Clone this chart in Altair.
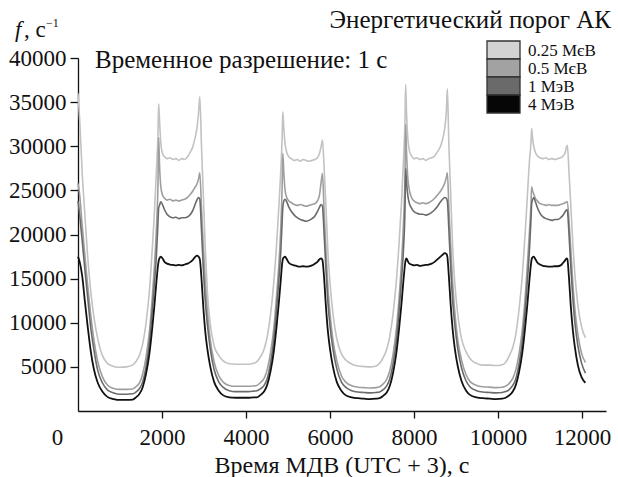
import altair as alt
import pandas as pd

# Time grid (s), shared by all four series
TIME = [
    0, 40, 100, 160, 230, 300, 380, 470, 580, 700, 850, 1000, 1150,
    1300, 1380, 1470, 1540, 1620, 1700, 1770, 1820, 1870, 1905, 1920,
    1940, 1970, 2010, 2060, 2120, 2190, 2260, 2330, 2400, 2470, 2540, 2610, 2680, 2730, 2780, 2830, 2870, 2900,
    2940, 2980, 3030, 3080, 3150, 3240, 3350, 3450, 3600, 3750,
    3900, 4050, 4180,
    4260, 4340, 4430, 4500, 4580, 4660, 4730, 4780, 4830, 4860, 4876,
    4900, 4930, 4970, 5020, 5080, 5150, 5220, 5290, 5360, 5430, 5500, 5570, 5640, 5700, 5750, 5790, 5820,
    5860, 5900, 5950, 6000, 6070, 6160, 6270, 6370, 6520, 6670,
    6800, 6950, 7100,
    7180, 7260, 7350, 7420, 7500, 7580, 7650, 7700, 7750, 7785, 7800,
    7820, 7850, 7890, 7940, 8000, 8070, 8140, 8210, 8280, 8350, 8420, 8490, 8560, 8630, 8680, 8730, 8770, 8793,
    8830, 8870, 8920, 8970, 9040, 9130, 9240, 9340, 9490, 9640,
    9800, 9950, 10100,
    10180, 10260, 10350, 10420, 10500, 10580, 10650, 10700, 10750, 10785, 10800,
    10820, 10850, 10890, 10940, 11000, 11070, 11140, 11210, 11280, 11350, 11420, 11490, 11550, 11600, 11630, 11650,
    11690, 11730, 11780, 11830, 11900, 11990, 12080,
]

F_025 = [
    36000, 33000, 27000, 22500, 17500, 13700, 10600, 8200, 6300, 5400, 5050, 4950, 5000,
    5200, 5600, 6400, 7600, 10000, 13600, 18500, 22500, 27500, 31500, 34800,
    33000, 30500, 29200, 28800, 28600, 28700, 28500, 28600, 28400, 28600, 28500, 28800, 29400, 29900, 30800, 32000, 33800, 35600,
    30000, 25000, 18500, 13500, 9800, 7400, 6300, 5700, 5350, 5300,
    5300, 5300, 5400,
    5600, 6100, 7000, 8300, 10800, 14500, 19000, 23000, 27500, 31000, 33900,
    32000, 30300, 29300, 28800, 28600, 28400, 28500, 28300, 28500, 28400, 28300, 28400, 28500, 28700, 29200, 30000, 30700,
    27500, 23500, 18000, 14500, 11000, 8200, 6500, 5800, 5300, 5100,
    5050, 5000, 5100,
    5400, 6000, 7000, 8400, 11000, 14800, 19500, 23500, 28500, 33000, 37000,
    34000, 31000, 29500, 28900, 28600, 28700, 28500, 28600, 28400, 28600, 28700, 28900, 29400, 30000, 30800, 32000, 34000, 36500,
    30000, 25000, 18500, 14500, 11000, 8200, 6700, 5900, 5400, 5200,
    5200, 5150, 5250,
    5500, 6200, 7200, 8600, 11500, 15500, 20500, 24500, 28500, 30500, 32000,
    31000, 30000, 29300, 28900, 28700, 28600, 28700, 28500, 28600, 28500, 28600, 28700, 28900, 29300, 29900, 30100,
    27000, 23500, 19000, 15500, 12000, 9500, 8300,
]

F_05 = [
    25800, 24500, 21000, 17800, 14200, 11000, 8000, 5600, 3900, 2950, 2550, 2450, 2450,
    2500, 2750, 3250, 4200, 6100, 9000, 13000, 16500, 21000, 26000, 31000,
    28000, 25500, 24500, 24100, 23900, 24000, 23800, 23900, 23800, 23900, 24000, 24200, 24600, 24900, 25300, 25700, 26300, 27000,
    23000, 19000, 14500, 11300, 8000, 5600, 4000, 3300, 2900, 2800,
    2800, 2800, 2850,
    2900, 3200, 3700, 4600, 6500, 9300, 13200, 16500, 21000, 25500, 29200,
    27000, 25000, 24200, 23800, 23600, 23400, 23300, 23400, 23300, 23200, 23300, 23400, 23500, 23800, 24500, 26000, 26900,
    22500, 18500, 14000, 11000, 8000, 5700, 4000, 3300, 2850, 2700,
    2650, 2600, 2650,
    2750, 3050, 3600, 4500, 6400, 9300, 13200, 16700, 21500, 27000, 32500,
    29500, 26500, 25000, 24200, 23800, 23600, 23500, 23600, 23500, 23600, 23800, 24100, 24500, 24900, 25300, 25800, 26500, 27000,
    23000, 19000, 14500, 11200, 8100, 5800, 4100, 3300, 2900, 2750,
    2700, 2650, 2700,
    2800, 3100, 3700, 4600, 6500, 9300, 13200, 16700, 20500, 23500, 25400,
    25000, 24600, 24100, 23800, 23500, 23400, 23300, 23400, 23300, 23300, 23300, 23400, 23500, 23600, 23700, 23700,
    21500, 18500, 14500, 11500, 8700, 6500, 5500,
]

F_1 = [
    23800, 22200, 19300, 16200, 12900, 9600, 6900, 4600, 3200, 2400, 2050, 1900, 1900,
    1950, 2150, 2600, 3300, 5000, 7800, 11500, 14500, 18000, 21500, 23000,
    23300, 23700, 23400, 22800, 22300, 22000, 21900, 21950, 21800, 21900, 21900, 22000, 22300, 22700, 23300, 23900, 24200, 24000,
    20500, 16500, 12500, 9800, 7000, 4700, 3300, 2700, 2300, 2200,
    2200, 2200, 2250,
    2300, 2500, 2900, 3600, 5300, 8000, 11700, 14700, 18300, 21500, 23000,
    23800, 24000, 23700, 23100, 22600, 22200, 21900, 21700, 21600, 21500, 21600, 21800, 22100, 22600, 23100, 23400, 23200,
    20000, 16300, 12300, 9600, 7000, 4800, 3300, 2700, 2300, 2150,
    2100, 2050, 2100,
    2150, 2400, 2850, 3600, 5300, 8000, 11700, 14800, 18500, 23000, 27500,
    26000, 24500, 23500, 23000, 22600, 22400, 22300, 22300, 22200, 22300, 22500, 22800, 23200, 23700, 24000, 24200, 24100, 23800,
    20500, 16500, 12500, 9800, 7100, 4900, 3400, 2700, 2300, 2150,
    2100, 2050, 2100,
    2200, 2400, 2900, 3600, 5300, 8000, 11700, 14800, 18500, 21800, 23500,
    23900, 24200, 23700, 23000, 22400, 22000, 21800, 21700, 21600, 21700, 21700, 21900, 22200, 22600, 22800, 22700,
    20000, 16500, 12800, 10000, 7400, 5400, 4300,
]

F_4 = [
    17500, 16900, 15300, 12600, 9600, 6900, 4700, 3200, 2200, 1600, 1350, 1250, 1250,
    1300, 1550, 2000, 2700, 4200, 6500, 9500, 12000, 14800, 16500, 17000,
    17300, 17500, 17300, 16900, 16700, 16600, 16550, 16500, 16550, 16500, 16600, 16700, 16900, 17100, 17400, 17600, 17500, 17200,
    15000, 12000, 9000, 7000, 5000, 3300, 2300, 1800, 1550, 1500,
    1500, 1500, 1550,
    1550, 1800, 2200, 2900, 4400, 6700, 9700, 12200, 15000, 16700, 17200,
    17400, 17500, 17200, 16800, 16600, 16500, 16400, 16350, 16400, 16350, 16400, 16500, 16700, 16900, 17200, 17300, 17100,
    15000, 12000, 9000, 7000, 5000, 3300, 2300, 1800, 1550, 1450,
    1400, 1350, 1400,
    1450, 1700, 2100, 2800, 4300, 6600, 9600, 12100, 14900, 16600, 17100,
    17300, 17000, 16700, 16600, 16500, 16550, 16450, 16500, 16550, 16600, 16700, 16900, 17200, 17500, 17700, 17900, 17800, 17500,
    15200, 12200, 9200, 7100, 5100, 3400, 2300, 1800, 1550, 1450,
    1400, 1350, 1400,
    1500, 1750, 2200, 2900, 4400, 6700, 9700, 12200, 15000, 16700, 17200,
    17400, 17500, 17200, 16800, 16600, 16450, 16400, 16350, 16350, 16400, 16400, 16500, 16800, 17100, 17300, 17200,
    15000, 12000, 9200, 7200, 5200, 3800, 3200,
]

SERIES = ["0.25 МєВ", "0.5 МєВ", "1 МэВ", "4 МэВ"]
FIELDS = ["f025", "f05", "f1", "f4"]
LINE_COLORS = ["#c2c2c2", "#9e9e9e", "#6a6a6a", "#111111"]
LINE_WIDTHS = [1.6, 1.6, 1.6, 1.8]
SWATCH_COLORS = ["#d3d3d3", "#a2a2a2", "#6a6a6a", "#060606"]
X_TICKS = [0, 2000, 4000, 6000, 8000, 10000, 12000]
Y_TICKS = [5000, 10000, 15000, 20000, 25000, 30000, 35000, 40000]

assert len(TIME) == len(F_025) == len(F_05) == len(F_1) == len(F_4)

W, H = 528, 353
FONT = "Liberation Serif"

df = pd.DataFrame({"t": TIME, "f025": F_025, "f05": F_05, "f1": F_1, "f4": F_4})
long = df.melt(id_vars="t", value_vars=FIELDS, var_name="series", value_name="f")

x_enc = alt.X("t:Q", scale=alt.Scale(domain=[0, 12570], nice=False, zero=False),
              axis=alt.Axis(values=X_TICKS, title=None, grid=False, format="d",
                            labelFont=FONT, labelFontSize=23,
                            tickSize=7, labelPadding=8, labelFlush=False,
                            labelOffset={"condition": {"test": "datum.value === 0", "value": -21}, "value": 0},
                            tickColor={"condition": {"test": "datum.value === 0", "value": "transparent"}, "value": "#111"}))

y_enc = alt.Y("f:Q", scale=alt.Scale(domain=[0, 40000], nice=False),
              axis=alt.Axis(values=Y_TICKS, title=None, grid=False, format="d",
                            labelFont=FONT, labelFontSize=23,
                            tickSize=8, labelPadding=4))

layers = []
for i, fld in enumerate(FIELDS):
    layers.append(
        alt.Chart(long).transform_filter(alt.datum.series == fld).mark_line(
            color=LINE_COLORS[i], strokeWidth=LINE_WIDTHS[i], interpolate="monotone"
        ).encode(x=x_enc, y=y_enc)
    )

one = pd.DataFrame({"a": [0]})

# legend swatches and labels
for i, name in enumerate(SERIES):
    layers.append(
        alt.Chart(one).mark_rect(fill=SWATCH_COLORS[i], stroke="#333333", strokeWidth=1.3).encode(
            x=alt.value(409), x2=alt.value(442),
            y=alt.value(-17 + 18 * i), y2=alt.value(1 + 18 * i))
    )
    layers.append(
        alt.Chart(one).mark_text(text=name, align="left", baseline="alphabetic",
                                 font=FONT, fontSize=17, color="#111").encode(
            x=alt.value(450), y=alt.value(-2 + 18 * i))
    )

def label(txt, x, y, size, align="left", style="normal"):
    return alt.Chart(one).mark_text(text=txt, align=align, baseline="alphabetic",
                                    font=FONT, fontSize=size, fontStyle=style,
                                    color="#111").encode(x=alt.value(x), y=alt.value(y))

layers += [
    label("Энергетический порог АК", 533, -30, 25, align="right"),
    label("Временное разрешение: 1 с", 17, 10, 25),
    label("f", -63, -21, 23, style="italic"),
    label(", с", -54, -21, 23),
    label("−1", -32, -31, 12),
    label("Время МДВ (UTC + 3), с", 264, 415, 24, align="center"),
]

chart = alt.layer(*layers).properties(
    width=W, height=H,
    autosize=alt.AutoSizeParams(type="none"),
    padding={"left": 78, "top": 58, "right": 12, "bottom": 66},
    background="white",
).configure_view(stroke=None).configure_axis(
    domainColor="#111", domainWidth=1.3, tickColor="#111", tickWidth=1.3,
    labelFont=FONT, labelFontSize=23, labelColor="#111",
)

chart.save("out.html", embed_options={"renderer": "svg", "actions": False})
